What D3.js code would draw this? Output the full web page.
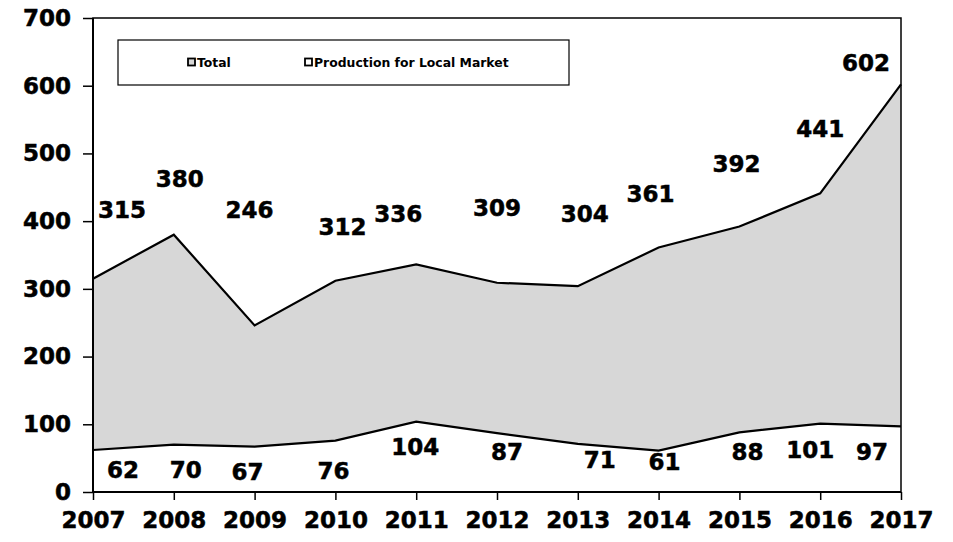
<!DOCTYPE html>
<html><head><meta charset="utf-8">
<script src="https://cdn.jsdelivr.net/npm/d3@7"></script>
<style>body{margin:0;background:#fff}svg{display:block}</style>
</head><body><svg id="c" width="953" height="542"></svg>
<script>
const years = [2007,2008,2009,2010,2011,2012,2013,2014,2015,2016,2017];
const total = [315,380,246,312,336,309,304,361,392,441,602];
const local = [62,70,67,76,104,87,71,61,88,101,97];
const yTicks = [0,100,200,300,400,500,600,700];
const seriesNames = ["Total","Production for Local Market"];
// label offsets (px) relative to the data point
const totalLabelOff = [[29,-69],[6,-56],[-5,-115],[7,-54],[-18,-51],[0,-75],[7,-72],[-8,-54],[-3,-63],[0,-64],[-35,-21]];
const localLabelOff = [[30,20],[12,25],[-7,25],[-2,30],[-1,25],[10,19],[22,16],[6,11],[8,20],[-10,26],[-29,26]];

const svg = d3.select("#c");
const m = {l:93, r:901, t:18, b:492};
const x = d3.scaleLinear().domain([2007,2017]).range([m.l,m.r]);
const y = d3.scaleLinear().domain([0,700]).range([m.b,m.t]);
const font = "'DejaVu Sans', Verdana, sans-serif";

const data = years.map((yr,i)=>({yr, t:total[i], l:local[i]}));

svg.append("path").datum(data)
  .attr("d", d3.area().x(d=>x(d.yr)).y0(y(0)).y1(d=>y(d.t)))
  .attr("fill","#d7d7d7");
svg.append("path").datum(data)
  .attr("d", d3.area().x(d=>x(d.yr)).y0(y(0)).y1(d=>y(d.l)))
  .attr("fill","#ffffff");
svg.append("path").datum(data)
  .attr("d", d3.line().x(d=>x(d.yr)).y(d=>y(d.t)))
  .attr("fill","none").attr("stroke","#000").attr("stroke-width",2.2);
svg.append("path").datum(data)
  .attr("d", d3.line().x(d=>x(d.yr)).y(d=>y(d.l)))
  .attr("fill","none").attr("stroke","#000").attr("stroke-width",2.2);

// frame
svg.append("rect").attr("x",m.l).attr("y",m.t).attr("width",m.r-m.l).attr("height",m.b-m.t)
  .attr("fill","none").attr("stroke","#000").attr("stroke-width",1.5);
svg.append("line").attr("x1",m.l).attr("x2",m.l).attr("y1",m.t).attr("y2",m.b).attr("stroke","#000").attr("stroke-width",2);
svg.append("line").attr("x1",m.l).attr("x2",m.r).attr("y1",m.b).attr("y2",m.b).attr("stroke","#000").attr("stroke-width",2);

const textStyle = sel => sel.attr("fill","#000").attr("stroke","#000").attr("stroke-width",0.5)
  .style("font-family",font).style("font-weight","bold").style("font-size","23px");

// axes
const ya = svg.append("g").attr("transform",`translate(${m.l},0)`)
  .call(d3.axisLeft(y).tickValues(yTicks).tickSize(10).tickPadding(12).tickFormat(d3.format("d")));
const xa = svg.append("g").attr("transform",`translate(0,${m.b})`)
  .call(d3.axisBottom(x).tickValues(years).tickSize(8).tickPadding(12).tickFormat(d3.format("d")));
[ya,xa].forEach(a=>{
  a.select(".domain").remove();
  a.selectAll("line").attr("stroke","#000").attr("stroke-width",1.5);
  a.selectAll("text").call(textStyle);
});
xa.selectAll("text").attr("dy","0.71em");

// data labels
svg.append("g").selectAll("text").data(data).join("text")
  .attr("x",(d,i)=>x(d.yr)+totalLabelOff[i][0])
  .attr("y",(d,i)=>y(d.t)+totalLabelOff[i][1])
  .attr("dy","0.35em").attr("text-anchor","middle")
  .call(textStyle)
  .text(d=>d.t);
svg.append("g").selectAll("text").data(data).join("text")
  .attr("x",(d,i)=>x(d.yr)+localLabelOff[i][0])
  .attr("y",(d,i)=>y(d.l)+localLabelOff[i][1])
  .attr("dy","0.35em").attr("text-anchor","middle")
  .call(textStyle)
  .text(d=>d.l);

// legend
const lg = svg.append("g");
lg.append("rect").attr("x",118).attr("y",40).attr("width",451).attr("height",45)
  .attr("fill","#fff").attr("stroke","#000").attr("stroke-width",1.2);
const fills = ["#d7d7d7","#ffffff"];
const lx = [188,305];
seriesNames.forEach((n,i)=>{
  lg.append("rect").attr("x",lx[i]).attr("y",58.5).attr("width",7).attr("height",7)
    .attr("fill",fills[i]).attr("stroke","#000").attr("stroke-width",1.8);
  lg.append("text").attr("x",lx[i]+9).attr("y",62.5).attr("dy","0.35em")
    .style("font-family",font).style("font-weight","bold").style("font-size","12.4px")
    .text(n);
});
</script></body></html>
